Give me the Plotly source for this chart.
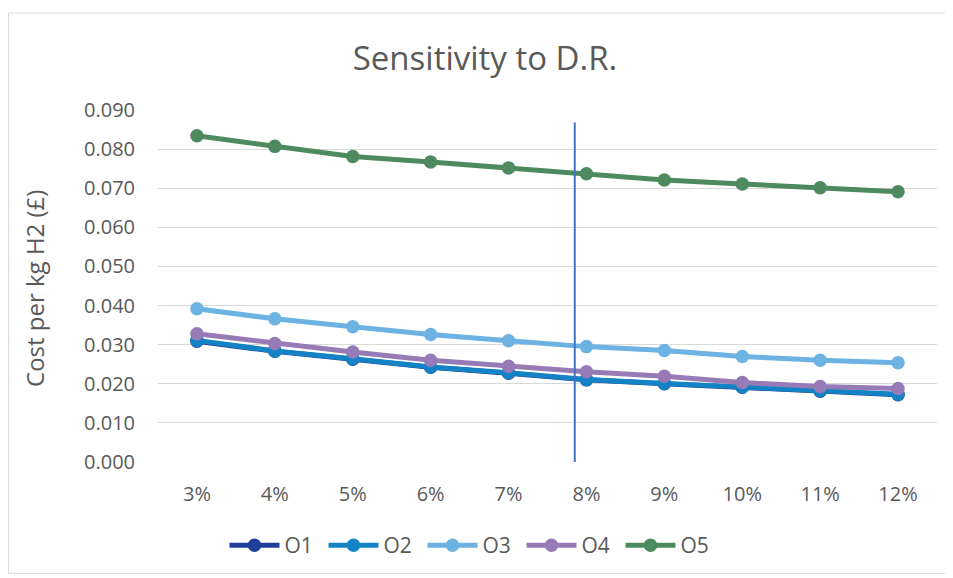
import plotly.graph_objects as go

categories = ["3%", "4%", "5%", "6%", "7%", "8%", "9%", "10%", "11%", "12%"]
o1 = [0.0309, 0.0283, 0.0263, 0.0242, 0.0227, 0.0210, 0.0200, 0.0191, 0.0181, 0.0172]
o2 = [0.0311, 0.0284, 0.0264, 0.0243, 0.0228, 0.0211, 0.0201, 0.0192, 0.0182, 0.0173]
o3 = [0.0392, 0.0366, 0.0346, 0.0326, 0.0310, 0.0295, 0.0285, 0.0270, 0.0260, 0.0254]
o4 = [0.0328, 0.0303, 0.0281, 0.0260, 0.0245, 0.0231, 0.0219, 0.0203, 0.0193, 0.0188]
o5 = [0.0834, 0.0807, 0.0781, 0.0767, 0.0752, 0.0737, 0.0721, 0.0711, 0.0701, 0.0691]
y_ticks = [0.0, 0.01, 0.02, 0.03, 0.04, 0.05, 0.06, 0.07, 0.08, 0.09]
marker_line_x = 4.85
marker_line_y = [-0.0008, 0.0868]

series = [
    ("O1", o1, "#203F9A"),
    ("O2", o2, "#1383C6"),
    ("O3", o3, "#6CB2E2"),
    ("O4", o4, "#967BB6"),
    ("O5", o5, "#4E8A5F"),
]

FONT = "Open Sans"
GREY = "#595959"

# page has an 8px body margin; figure coordinates = page coordinates - 8
OFF = 8
W, H = 953 - OFF, 578 - OFF
L, T = 158 - OFF, 110 - OFF
R = 953 - 937
B = 578 - 464
pw, ph = W - L - R, H - T - B


def px(x):
    return (x - OFF - L) / pw


def py(y):
    return (H - B - (y - OFF)) / ph


fig = go.Figure()
for name, vals, col in series:
    fig.add_trace(go.Scatter(
        x=categories, y=vals, name=name, mode="lines+markers",
        line=dict(color=col, width=5),
        marker=dict(color=col, size=13.5),
    ))

fig.add_shape(type="line", xref="x", yref="y",
              x0=marker_line_x, x1=marker_line_x,
              y0=marker_line_y[0], y1=marker_line_y[1],
              line=dict(color="#4472C4", width=2))

# outer chart border
fig.add_shape(type="rect", xref="paper", yref="paper",
              x0=px(OFF + 0.5), x1=px(950.5), y0=py(576), y1=py(12.5),
              line=dict(color="#D9D9D9", width=1), layer="below")

fig.add_annotation(text="Cost per kg H2 (£)", xref="paper", yref="paper",
                   x=px(35), y=py(290), textangle=-90, showarrow=False,
                   xanchor="center", yanchor="middle",
                   font=dict(family=FONT, size=24, color=GREY))

fig.update_layout(
    width=W, height=H,
    margin=dict(l=L, r=R, t=T, b=B),
    paper_bgcolor="white", plot_bgcolor="white",
    font=dict(family=FONT, color=GREY),
    title=dict(text="Sensitivity to D.R.", xref="container", yref="container",
               x=(485 - OFF) / W, y=1 - (58 - OFF) / H,
               xanchor="center", yanchor="middle",
               font=dict(family=FONT, size=33, color=GREY)),
    showlegend=True,
    legend=dict(orientation="h", xref="paper", yref="paper",
                x=px(472), y=py(548), xanchor="center", yanchor="middle",
                font=dict(family=FONT, size=21, color=GREY),
                entrywidth=34, itemwidth=50, bgcolor="rgba(0,0,0,0)"),
)

fig.update_xaxes(type="category", categoryorder="array", categoryarray=categories,
                 range=[-0.5, 9.5], showgrid=False, zeroline=False, showline=False,
                 ticks="", ticklabelstandoff=18,
                 tickfont=dict(family=FONT, size=20, color=GREY))
fig.update_yaxes(range=[0, 0.09], tickvals=y_ticks, tickformat=".3f",
                 showgrid=True, gridcolor="#D9D9D9", gridwidth=1.3,
                 zeroline=False, showline=False, ticks="", ticklabelstandoff=22,
                 tickfont=dict(family=FONT, size=20, color=GREY))

fig.write_html("out.html")
